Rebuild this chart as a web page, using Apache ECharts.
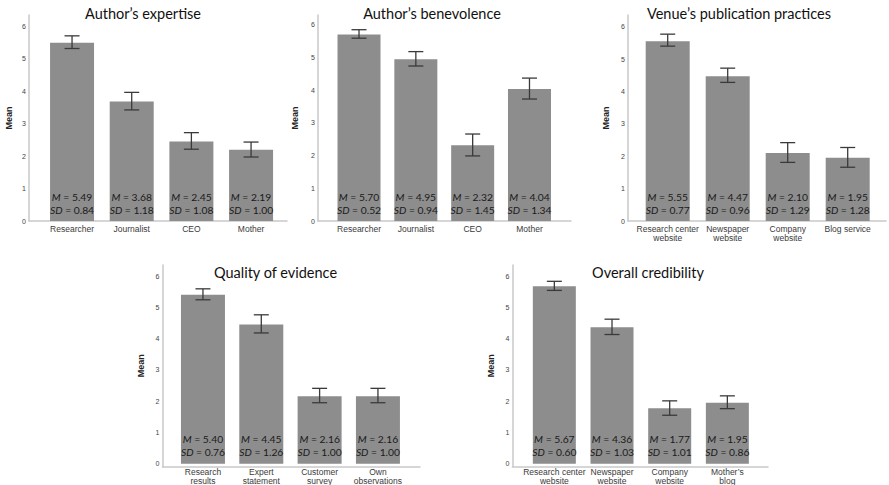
<!DOCTYPE html>
<html>
<head>
<meta charset="utf-8">
<script src="https://cdn.jsdelivr.net/npm/echarts@6/dist/echarts.min.js"></script>
<style>
html,body{margin:0;padding:0;background:#fff;}
#chart{width:889px;height:485px;}
</style>
</head>
<body>
<div id="chart"></div>
<script>
// ---- data ----
const titles = ['Author\u2019s expertise', 'Author\u2019s benevolence', 'Venue\u2019s publication practices', 'Quality of evidence', 'Overall credibility'];

const cats1 = ['Researcher', 'Journalist', 'CEO', 'Mother'];
const means1 = [5.49, 3.68, 2.45, 2.19];
const sds1 = [0.84, 1.18, 1.08, 1.00];
const lo1 = [5.31, 3.42, 2.21, 1.97];
const hi1 = [5.70, 3.96, 2.72, 2.43];

const cats2 = ['Researcher', 'Journalist', 'CEO', 'Mother'];
const means2 = [5.70, 4.95, 2.32, 4.04];
const sds2 = [0.52, 0.94, 1.45, 1.34];
const lo2 = [5.59, 4.74, 1.99, 3.73];
const hi2 = [5.85, 5.18, 2.66, 4.37];

const cats3 = ['Research center\nwebsite', 'Newspaper\nwebsite', 'Company\nwebsite', 'Blog service'];
const means3 = [5.55, 4.47, 2.10, 1.95];
const sds3 = [0.77, 0.96, 1.29, 1.28];
const lo3 = [5.40, 4.28, 1.81, 1.66];
const hi3 = [5.77, 4.72, 2.42, 2.27];

const cats4 = ['Research\nresults', 'Expert\nstatement', 'Customer\nsurvey', 'Own\nobservations'];
const means4 = [5.40, 4.45, 2.16, 2.16];
const sds4 = [0.76, 1.26, 1.00, 1.00];
const lo4 = [5.24, 4.18, 1.95, 1.95];
const hi4 = [5.59, 4.76, 2.41, 2.41];

const cats5 = ['Research center\nwebsite', 'Newspaper\nwebsite', 'Company\nwebsite', 'Mother\u2019s\nblog'];
const means5 = [5.67, 4.36, 1.77, 1.95];
const sds5 = [0.60, 1.03, 1.01, 0.86];
const lo5 = [5.54, 4.13, 1.55, 1.76];
const hi5 = [5.83, 4.62, 2.01, 2.17];

const yTicks = [0, 1, 2, 3, 4, 5, 6];
const yName = 'Mean';

// ---- layout (pixels) ----
const layout = [
  {axisX: 29,    axisTop: 15,  axisEnd: 287, y0: 221,   y6: 26.1, gridLeft: 42.2,  gridW: 238.7, barW: 44, titleX: 143,   titleY: 16,  meanX: 13},
  {axisX: 318,   axisTop: 15,  axisEnd: 571, y0: 221,   y6: 24.8, gridLeft: 330.6, gridW: 227.3, barW: 43, titleX: 432,   titleY: 16,  meanX: 299},
  {axisX: 628,   axisTop: 15,  axisEnd: 886, y0: 221,   y6: 26.7, gridLeft: 637.7, gridW: 240,   barW: 44, titleX: 739,   titleY: 16,  meanX: 610},
  {axisX: 162.5, axisTop: 265, axisEnd: 420, y0: 466.7, y6: 276,  gridLeft: 173.8, gridW: 233.3, barW: 44, titleX: 275.5, titleY: 275, meanX: 145},
  {axisX: 512.3, axisTop: 265, axisEnd: 768, y0: 466.5, y6: 276,  gridLeft: 525.5, gridW: 230.7, barW: 43, titleX: 648,   titleY: 275, meanX: 495}
];

const panels = [
  {cats: cats1, means: means1, sds: sds1, lo: lo1, hi: hi1},
  {cats: cats2, means: means2, sds: sds2, lo: lo2, hi: hi2},
  {cats: cats3, means: means3, sds: sds3, lo: lo3, hi: hi3},
  {cats: cats4, means: means4, sds: sds4, lo: lo4, hi: hi4},
  {cats: cats5, means: means5, sds: sds5, lo: lo5, hi: hi5}
];

const BAR_COLOR = '#8d8d8d';
const AXIS_COLOR = '#c9c9c9';
const ERR_COLOR = '#3a3a3a';
const SANS = 'Liberation Sans, Arial, sans-serif';
const CAL = 'Lato, Open Sans, sans-serif';

const option = {
  animation: false,
  backgroundColor: '#fff',
  title: [], grid: [], xAxis: [], yAxis: [], series: []
};

panels.forEach((p, i) => {
  const L = layout[i];
  const gMain = i * 2, gFrame = i * 2 + 1;
  option.title.push({
    text: titles[i], left: L.titleX, top: L.titleY - 10, textAlign: 'center', padding: 0,
    textStyle: {fontFamily: CAL, fontSize: 14.5, fontWeight: 'normal', color: '#111'}
  });
  option.grid.push({left: L.gridLeft, top: L.y6, width: L.gridW, height: L.y0 - L.y6});
  option.grid.push({left: L.axisX, top: L.axisTop, width: L.axisEnd - L.axisX, height: L.y0 - L.axisTop});
  option.xAxis.push({
    type: 'category', gridIndex: gMain, data: p.cats,
    axisLine: {show: false}, axisTick: {show: false}, splitLine: {show: false},
    axisLabel: {interval: 0, margin: 4, fontSize: 8.5, lineHeight: 8.5, color: '#3a3a3a', fontFamily: SANS}
  });
  option.xAxis.push({
    type: 'value', gridIndex: gFrame, min: 0, max: 1,
    axisLine: {show: true, lineStyle: {color: AXIS_COLOR, width: 1.5}},
    axisTick: {show: false}, axisLabel: {show: false}, splitLine: {show: false}
  });
  option.yAxis.push({
    type: 'value', gridIndex: gMain, min: yTicks[0], max: yTicks[yTicks.length - 1], interval: 1,
    axisLine: {show: false}, axisTick: {show: false}, splitLine: {show: false},
    axisLabel: {margin: L.gridLeft - L.axisX + 3, fontSize: 7, color: '#444', fontFamily: SANS}
  });
  option.yAxis.push({
    type: 'value', gridIndex: gFrame, min: 0, max: 1,
    name: yName, nameLocation: 'middle', nameGap: L.axisX - L.meanX, nameRotate: 90,
    nameTextStyle: {fontFamily: SANS, fontSize: 9, fontWeight: 'bold', color: '#222'},
    axisLine: {show: true, lineStyle: {color: AXIS_COLOR, width: 1.5}},
    axisTick: {show: false}, axisLabel: {show: false}, splitLine: {show: false}
  });
  option.series.push({
    type: 'bar', xAxisIndex: gMain, yAxisIndex: gMain, data: p.means, barWidth: L.barW,
    itemStyle: {color: BAR_COLOR},
    label: {
      show: true, position: 'insideBottom', distance: 5,
      formatter: (prm) => '{i|M} = ' + p.means[prm.dataIndex].toFixed(2) + '\n{i|SD} = ' + p.sds[prm.dataIndex].toFixed(2),
      fontFamily: CAL, fontSize: 10.3, lineHeight: 13, color: '#1a1a1a',
      rich: {i: {fontFamily: CAL, fontSize: 10.3, fontStyle: 'italic', color: '#1a1a1a', lineHeight: 13}}
    },
    z: 2
  });
  option.series.push({
    type: 'custom', xAxisIndex: gMain, yAxisIndex: gMain,
    data: p.cats.map((c, k) => [k, p.lo[k], p.hi[k]]),
    encode: {x: 0, y: [1, 2]},
    z: 3,
    renderItem: (params, api) => {
      const a = api.coord([api.value(0), api.value(1)]);
      const b = api.coord([api.value(0), api.value(2)]);
      const hw = 7.5;
      const st = {stroke: ERR_COLOR, lineWidth: 1.3};
      return {type: 'group', children: [
        {type: 'line', shape: {x1: a[0], y1: a[1], x2: b[0], y2: b[1]}, style: st},
        {type: 'line', shape: {x1: a[0] - hw, y1: a[1], x2: a[0] + hw, y2: a[1]}, style: st},
        {type: 'line', shape: {x1: b[0] - hw, y1: b[1], x2: b[0] + hw, y2: b[1]}, style: st}
      ]};
    }
  });
});

const chart = echarts.init(document.getElementById('chart'), null, {renderer: 'svg'});
chart.setOption(option);
</script>
</body>
</html>
